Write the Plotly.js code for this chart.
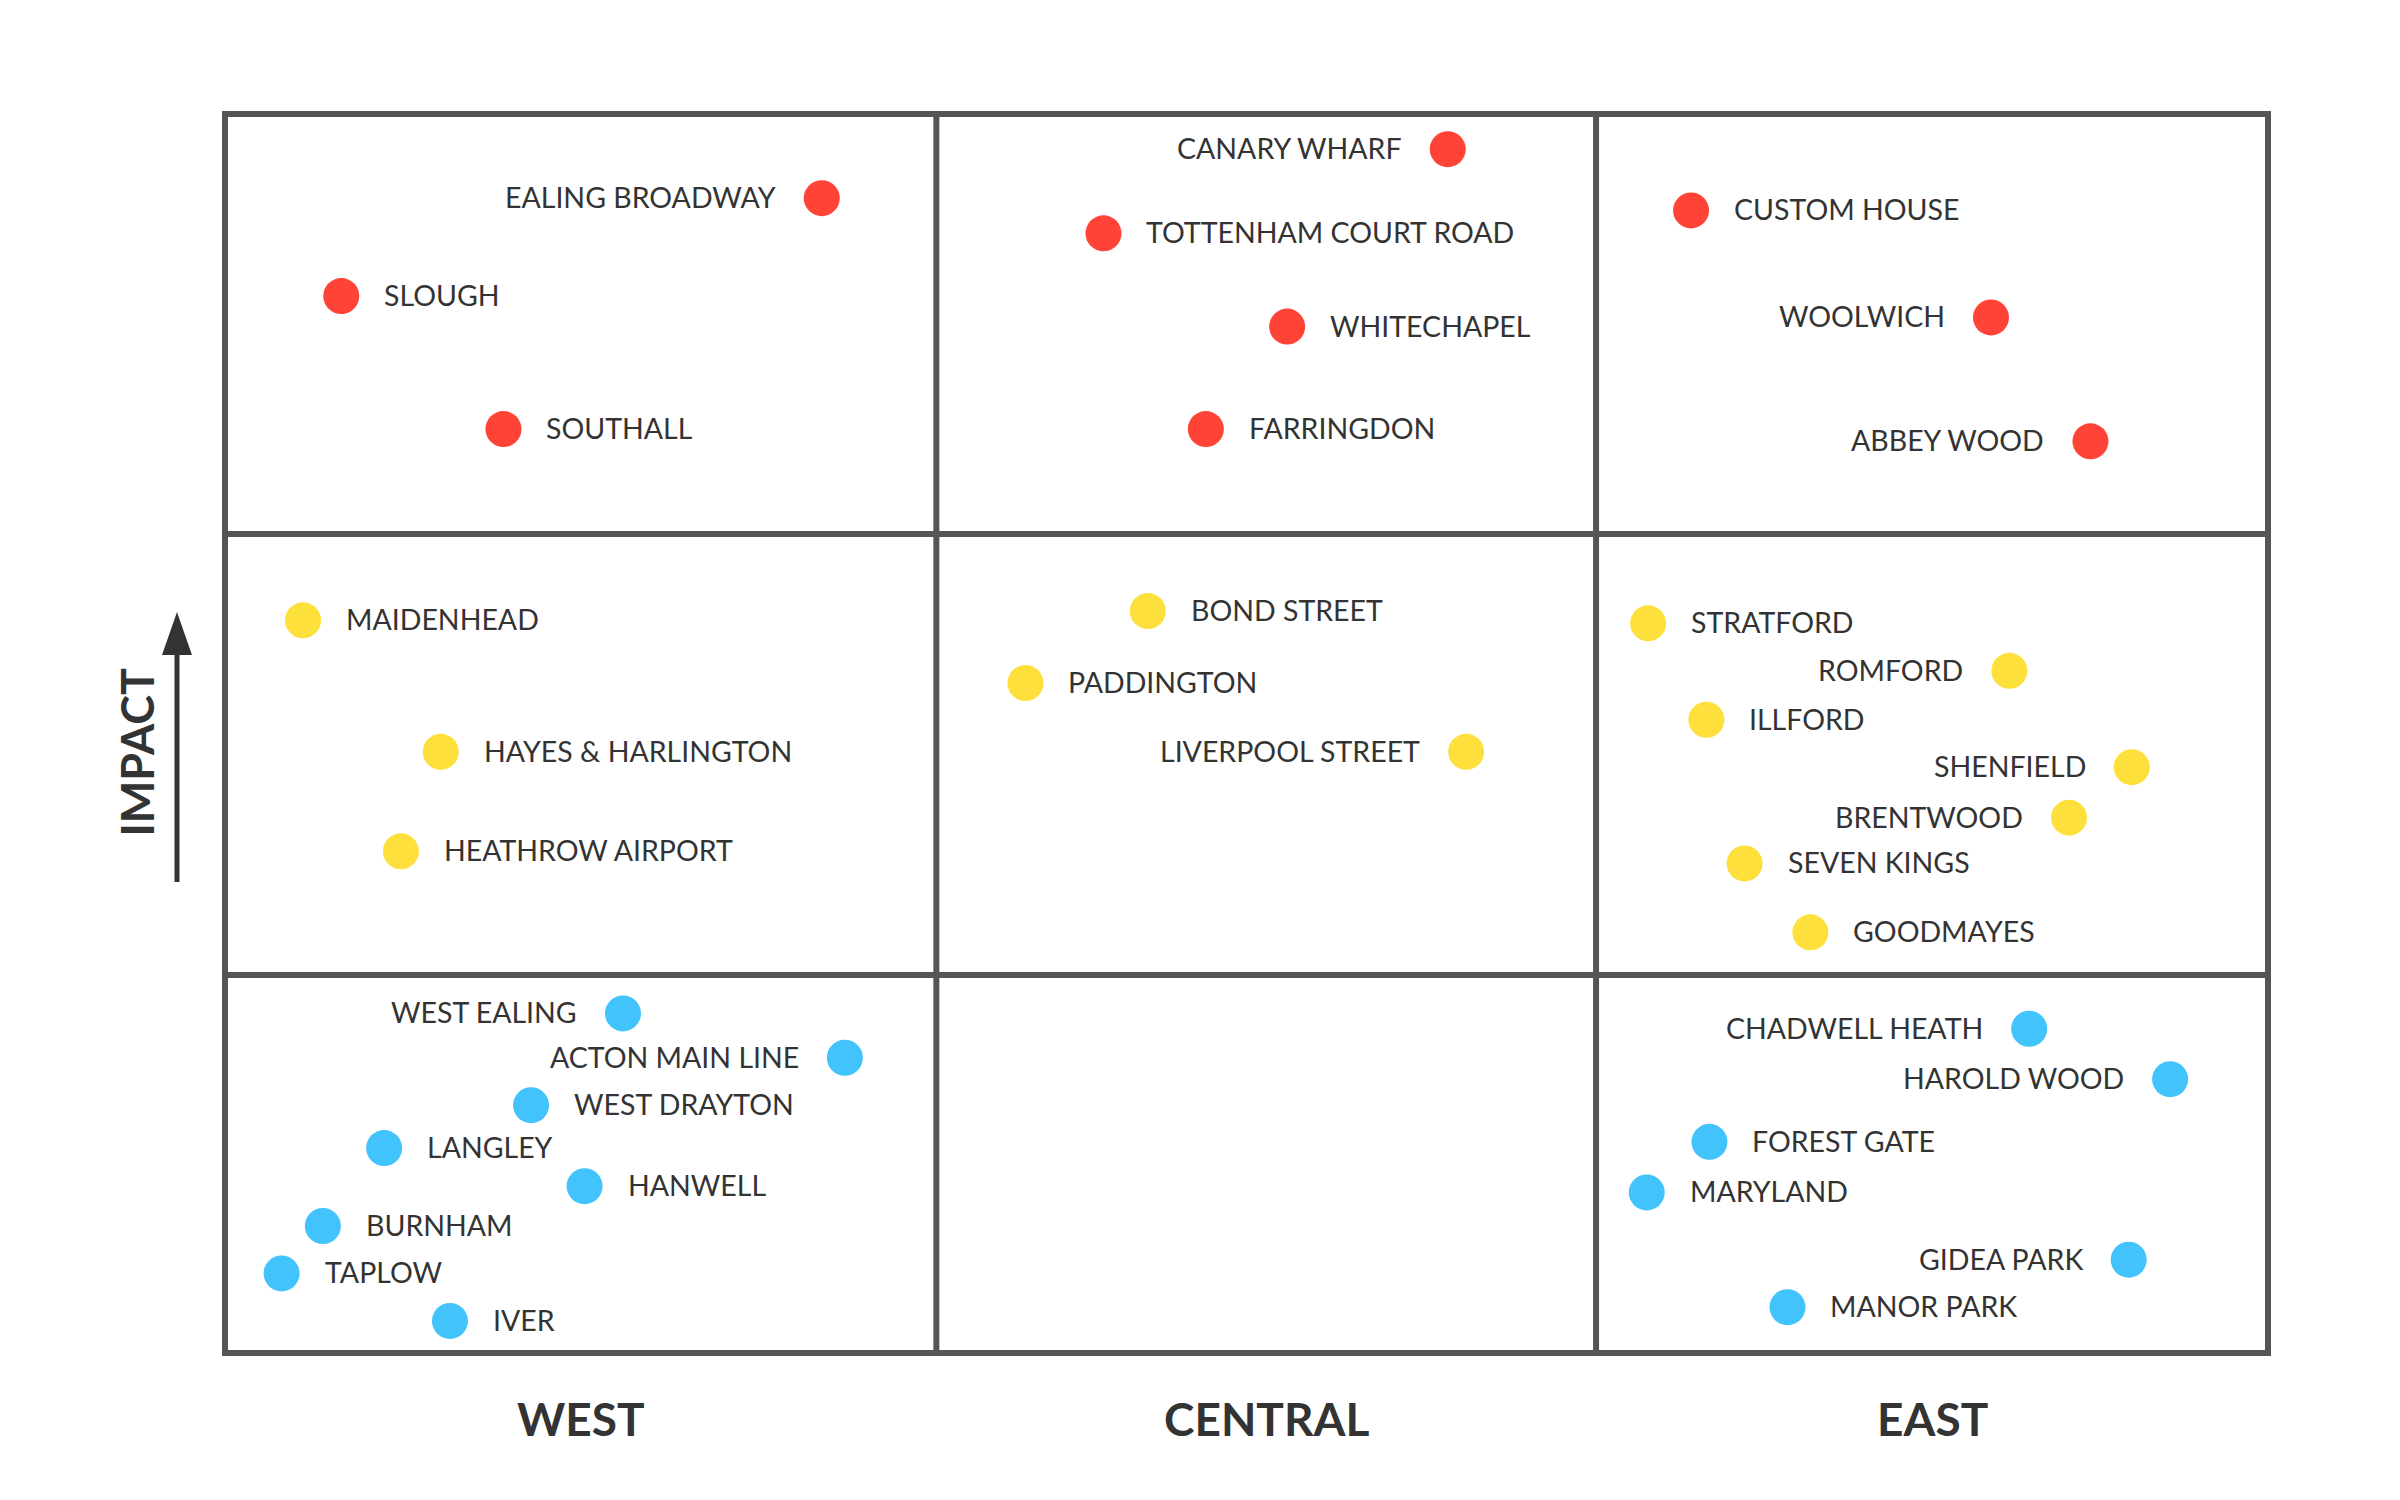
<!DOCTYPE html>
<html>
<head>
<meta charset="utf-8">
<script src="https://cdn.plot.ly/plotly-3.0.1.min.js"></script>
<style>html,body{margin:0;padding:0;background:#ffffff;}</style>
</head>
<body>
<div id="chart" style="width:2400px;height:1500px;"></div>
<script>
// ---- Data (positions on a 0-100 scale inside the grid) ----
const regions = ['WEST', 'CENTRAL', 'EAST'];
const regionEdges = [0, 34.82, 67.11, 100];
const impactEdges = [0, 30.51, 66.10, 100];
const axisTitle = 'IMPACT';

// High impact (red)
const highNames = ['EALING BROADWAY', 'SLOUGH', 'SOUTHALL', 'CANARY WHARF', 'TOTTENHAM COURT ROAD', 'WHITECHAPEL', 'FARRINGDON', 'CUSTOM HOUSE', 'WOOLWICH', 'ABBEY WOOD'];
const highX = [29.21, 5.69, 13.63, 59.85, 43.00, 51.99, 48.01, 71.76, 86.44, 91.31];
const highY = [93.21, 85.31, 74.57, 97.16, 90.37, 82.84, 74.57, 92.22, 83.58, 73.58];
const highSide = ['L', 'R', 'R', 'L', 'R', 'R', 'R', 'R', 'L', 'L'];

// Medium impact (yellow)
const midNames = ['MAIDENHEAD', 'HAYES & HARLINGTON', 'HEATHROW AIRPORT', 'BOND STREET', 'PADDINGTON', 'LIVERPOOL STREET', 'STRATFORD', 'ROMFORD', 'ILLFORD', 'SHENFIELD', 'BRENTWOOD', 'SEVEN KINGS', 'GOODMAYES'];
const midX = [3.82, 10.56, 8.61, 45.17, 39.18, 60.75, 69.66, 87.34, 72.51, 93.33, 90.26, 74.38, 77.60];
const midY = [59.14, 48.52, 40.49, 59.88, 54.07, 48.52, 58.89, 55.06, 51.11, 47.28, 43.21, 39.51, 33.95];
const midSide = ['R', 'R', 'R', 'R', 'R', 'L', 'R', 'L', 'R', 'L', 'L', 'R', 'R'];

// Low impact (blue)
const lowNames = ['WEST EALING', 'ACTON MAIN LINE', 'WEST DRAYTON', 'LANGLEY', 'HANWELL', 'BURNHAM', 'TAPLOW', 'IVER', 'CHADWELL HEATH', 'HAROLD WOOD', 'FOREST GATE', 'MARYLAND', 'GIDEA PARK', 'MANOR PARK'];
const lowX = [19.48, 30.34, 14.98, 7.79, 17.60, 4.79, 2.77, 11.01, 88.31, 95.21, 72.66, 69.59, 93.18, 76.48];
const lowY = [27.41, 23.83, 20.00, 16.54, 13.46, 10.25, 6.42, 2.59, 26.17, 22.10, 17.04, 12.96, 7.53, 3.70];
const lowSide = ['L', 'L', 'R', 'R', 'R', 'R', 'R', 'R', 'L', 'L', 'R', 'R', 'L', 'R'];

// ---- Styles ----
const RED = '#ff4336', YELLOW = '#fde03b', BLUE = '#42c3fc';
const TEXT = '#333333', GRID = '#555555';
const FONT = 'Lato, "Open Sans", sans-serif';

const W = 2400, H = 1500;
const M = {l: 225, r: 132, t: 114, b: 147};
const PW = W - M.l - M.r, PH = H - M.t - M.b;
// page pixel -> paper (for decorations outside the grid)
const px = x => (x - M.l) / PW;
const py = y => (H - M.b - y) / PH;

function dotTrace(name, xs, ys, color) {
  return {
    type: 'scatter', mode: 'markers', name: name,
    x: xs, y: ys,
    marker: {size: 36, color: color, line: {width: 0}},
    cliponaxis: false, hoverinfo: 'skip', showlegend: false
  };
}

const traces = [
  dotTrace('High', highX, highY, RED),
  dotTrace('Medium', midX, midY, YELLOW),
  dotTrace('Low', lowX, lowY, BLUE)
];

const annotations = [];
function addLabels(names, xs, ys, sides) {
  names.forEach((n, i) => {
    const left = sides[i] === 'L';
    annotations.push({
      xref: 'x', yref: 'y', x: xs[i], y: ys[i], text: n,
      showarrow: false, xanchor: left ? 'right' : 'left', yanchor: 'middle',
      xshift: left ? -45 : 42, yshift: 1, borderpad: 0,
      font: {family: FONT, size: 28.5, color: TEXT}
    });
  });
}
addLabels(highNames, highX, highY, highSide);
addLabels(midNames, midX, midY, midSide);
addLabels(lowNames, lowX, lowY, lowSide);

// Region labels under each column
regions.forEach((r, i) => {
  annotations.push({
    xref: 'x', yref: 'paper', x: (regionEdges[i] + regionEdges[i + 1]) / 2, y: 0,
    yshift: -65, text: '<b>' + r + '</b>', showarrow: false,
    xanchor: 'center', yanchor: 'middle', borderpad: 0,
    font: {family: FONT, size: 46, color: TEXT}
  });
});

// IMPACT label
annotations.push({
  xref: 'paper', yref: 'paper', x: px(136.5), y: py(752), text: '<b>' + axisTitle + '</b>',
  textangle: -90, showarrow: false, xanchor: 'center', yanchor: 'middle', borderpad: 0,
  font: {family: FONT, size: 45, color: TEXT}
});

// Grid shapes
const shapes = [];
regionEdges.slice(1, -1).forEach(e => {
  shapes.push({type: 'line', xref: 'x', yref: 'paper', x0: e, x1: e, y0: 0, y1: 1,
    line: {color: GRID, width: 6}, layer: 'below'});
});
impactEdges.slice(1, -1).forEach(e => {
  shapes.push({type: 'line', xref: 'paper', yref: 'y', x0: 0, x1: 1, y0: e, y1: e,
    line: {color: GRID, width: 6}, layer: 'below'});
});
shapes.push({type: 'rect', xref: 'paper', yref: 'paper', x0: 0, x1: 1, y0: 0, y1: 1,
  line: {color: GRID, width: 6}, fillcolor: 'rgba(0,0,0,0)', layer: 'below'});

// Arrow next to IMPACT
shapes.push({type: 'line', xref: 'paper', yref: 'paper',
  x0: px(177), x1: px(177), y0: py(882), y1: py(650),
  line: {color: TEXT, width: 5}});
shapes.push({type: 'path', xref: 'paper', yref: 'paper',
  path: 'M ' + px(162) + ' ' + py(655) + ' L ' + px(192) + ' ' + py(655) + ' L ' + px(177) + ' ' + py(612) + ' Z',
  fillcolor: TEXT, line: {color: TEXT, width: 0}});

const layout = {
  width: W, height: H,
  margin: M,
  paper_bgcolor: '#ffffff', plot_bgcolor: '#ffffff',
  showlegend: false,
  xaxis: {range: [0, 100], showgrid: false, zeroline: false, showline: false,
    showticklabels: false, ticks: '', fixedrange: true},
  yaxis: {range: [0, 100], showgrid: false, zeroline: false, showline: false,
    showticklabels: false, ticks: '', fixedrange: true},
  annotations: annotations,
  shapes: shapes,
  font: {family: FONT, color: TEXT}
};

Plotly.newPlot('chart', traces, layout, {displayModeBar: false, staticPlot: true});
</script>
</body>
</html>
